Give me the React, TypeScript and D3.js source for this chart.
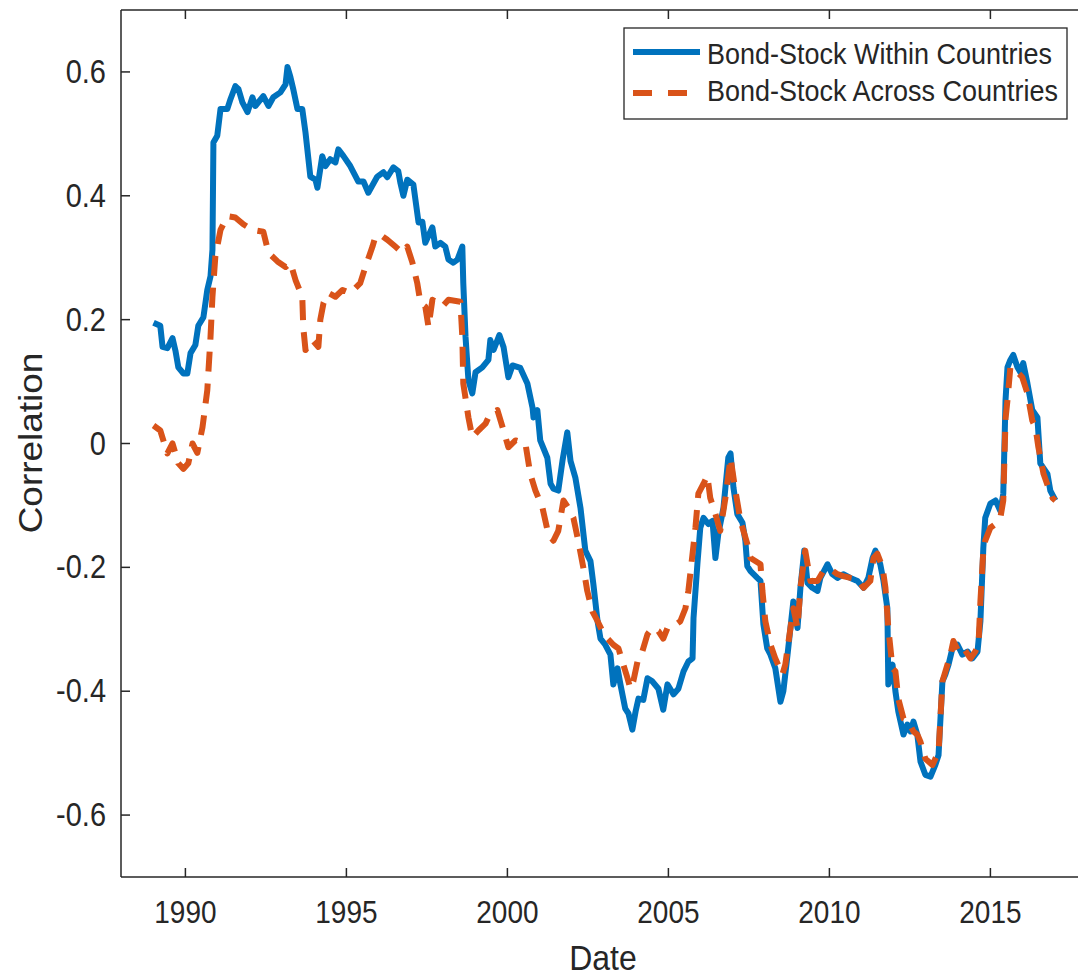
import React from 'react';
import {scaleLinear, line, curveLinear} from 'd3';

// dates as decimal years
const withinDates = [
  1989.01, 1989.22, 1989.29, 1989.44, 1989.6, 1989.69, 1989.78, 1989.94, 1990.06, 1990.16,
  1990.31, 1990.4, 1990.56, 1990.68, 1990.78, 1990.84, 1990.87, 1990.99, 1991.09, 1991.3,
  1991.4, 1991.55, 1991.65, 1991.77, 1991.93, 1992.08, 1992.17, 1992.42, 1992.58, 1992.73,
  1992.95, 1993.11, 1993.17, 1993.26, 1993.35, 1993.48, 1993.63, 1993.73, 1993.88, 1994.04,
  1994.1, 1994.25, 1994.35, 1994.5, 1994.66, 1994.75, 1994.91, 1995.12, 1995.37, 1995.53,
  1995.68, 1995.96, 1996.15, 1996.27, 1996.46, 1996.61, 1996.68, 1996.77, 1996.89, 1997.08,
  1997.24, 1997.36, 1997.45, 1997.67, 1997.76, 1997.92, 1998.07, 1998.17, 1998.32, 1998.45,
  1998.6, 1998.63, 1998.7, 1998.79, 1998.91, 1999.01, 1999.22, 1999.41, 1999.47, 1999.57,
  1999.75, 1999.88, 2000.03, 2000.16, 2000.4, 2000.62, 2000.78, 2000.81, 2000.93, 2001.02,
  2001.24, 2001.34, 2001.43, 2001.58, 2001.71, 2001.86, 2001.96, 2002.11, 2002.27, 2002.42,
  2002.58, 2002.67, 2002.8, 2002.89, 2003.04, 2003.2, 2003.29, 2003.42, 2003.51, 2003.66,
  2003.76, 2003.88, 2003.98, 2004.07, 2004.22, 2004.35, 2004.5, 2004.69, 2004.84, 2004.97,
  2005.16, 2005.31, 2005.47, 2005.62, 2005.75, 2005.78, 2005.9, 2005.99, 2006.09, 2006.24,
  2006.37, 2006.46, 2006.55, 2006.71, 2006.86, 2006.93, 2007.02, 2007.14, 2007.3, 2007.39,
  2007.45, 2007.55, 2007.76, 2007.86, 2007.95, 2008.07, 2008.17, 2008.32, 2008.48, 2008.57,
  2008.7, 2008.79, 2008.88, 2009.01, 2009.1, 2009.22, 2009.32, 2009.47, 2009.63, 2009.72,
  2009.94, 2010.09, 2010.25, 2010.43, 2010.65, 2010.87, 2011.06, 2011.21, 2011.34, 2011.43,
  2011.58, 2011.68, 2011.8, 2011.83, 2011.96, 2012.05, 2012.14, 2012.3, 2012.42, 2012.52,
  2012.61, 2012.73, 2012.83, 2012.98, 2013.14, 2013.29, 2013.39, 2013.51, 2013.6, 2013.7,
  2013.82, 2013.98, 2014.13, 2014.29, 2014.44, 2014.6, 2014.69, 2014.78, 2014.84, 2015.0,
  2015.16, 2015.31, 2015.4, 2015.47, 2015.53, 2015.62, 2015.71, 2015.84, 2015.93, 2016.02,
  2016.15, 2016.3, 2016.46, 2016.55, 2016.77, 2016.86, 2017.02,
];
const withinValues = [
  0.195, 0.19, 0.156, 0.154, 0.17, 0.15, 0.123, 0.113, 0.113, 0.146,
  0.159, 0.19, 0.204, 0.248, 0.27, 0.313, 0.486, 0.497, 0.54, 0.54,
  0.556, 0.577, 0.572, 0.551, 0.535, 0.559, 0.545, 0.561, 0.545, 0.559,
  0.567, 0.58, 0.608, 0.592, 0.572, 0.54, 0.54, 0.502, 0.431, 0.426,
  0.413, 0.464, 0.448, 0.459, 0.454, 0.475, 0.464, 0.448, 0.423, 0.423,
  0.405, 0.431, 0.438, 0.43, 0.446, 0.44, 0.42, 0.4, 0.426, 0.418,
  0.357, 0.358, 0.324, 0.349, 0.318, 0.324, 0.318, 0.297, 0.292, 0.297,
  0.318, 0.259, 0.172, 0.102, 0.081, 0.115, 0.123, 0.135, 0.167, 0.151,
  0.175, 0.156, 0.107, 0.126, 0.122, 0.097, 0.058, 0.042, 0.054, 0.005,
  -0.023, -0.065, -0.073, -0.076, -0.028, 0.018, -0.028, -0.055, -0.104, -0.173,
  -0.19, -0.227, -0.287, -0.315, -0.325, -0.341, -0.389, -0.363, -0.389, -0.428,
  -0.436, -0.462, -0.433, -0.412, -0.414, -0.379, -0.384, -0.396, -0.43, -0.389,
  -0.405, -0.396, -0.368, -0.352, -0.347, -0.282, -0.195, -0.136, -0.12, -0.13,
  -0.125, -0.185, -0.146, -0.104, -0.023, -0.016, -0.071, -0.114, -0.128, -0.157,
  -0.198, -0.206, -0.217, -0.222, -0.292, -0.331, -0.341, -0.363, -0.417, -0.4,
  -0.341, -0.298, -0.255, -0.298, -0.233, -0.173, -0.225, -0.233, -0.238, -0.217,
  -0.195, -0.211, -0.217, -0.211, -0.217, -0.222, -0.233, -0.217, -0.185, -0.173,
  -0.195, -0.222, -0.266, -0.389, -0.357, -0.4, -0.433, -0.47, -0.454, -0.465,
  -0.449, -0.47, -0.514, -0.535, -0.538, -0.519, -0.503, -0.384, -0.373, -0.357,
  -0.331, -0.325, -0.341, -0.336, -0.347, -0.336, -0.287, -0.169, -0.12, -0.097,
  -0.092, -0.109, -0.081, 0.07, 0.123, 0.135, 0.143, 0.123, 0.115, 0.13,
  0.097, 0.054, 0.042, -0.032, -0.049, -0.076, -0.092,
];

const acrossDates = [
  1989.01, 1989.22, 1989.44, 1989.6, 1989.78, 1989.94, 1990.09, 1990.22, 1990.37, 1990.53,
  1990.68, 1990.78, 1990.84, 1990.93, 1991.09, 1991.3, 1991.55, 1991.8, 1992.08, 1992.42,
  1992.58, 1992.86, 1993.11, 1993.26, 1993.42, 1993.63, 1993.66, 1993.73, 1993.94, 1994.13,
  1994.19, 1994.29, 1994.44, 1994.66, 1994.88, 1995.12, 1995.43, 1995.59, 1995.81, 1995.9,
  1996.06, 1996.27, 1996.52, 1996.74, 1996.89, 1997.05, 1997.2, 1997.3, 1997.45, 1997.55,
  1997.67, 1997.83, 1997.98, 1998.17, 1998.54, 1998.6, 1998.63, 1998.79, 1998.91, 1999.1,
  1999.32, 1999.47, 1999.69, 1999.88, 2000.03, 2000.25, 2000.56, 2000.71, 2000.87, 2001.09,
  2001.27, 2001.43, 2001.58, 2001.74, 2001.89, 2002.05, 2002.2, 2002.36, 2002.48, 2002.64,
  2002.8, 2002.95, 2003.11, 2003.29, 2003.45, 2003.57, 2003.73, 2003.82, 2003.91, 2004.04,
  2004.19, 2004.35, 2004.5, 2004.69, 2004.84, 2004.97, 2005.16, 2005.37, 2005.53, 2005.62,
  2005.75, 2005.84, 2005.93, 2006.09, 2006.21, 2006.3, 2006.46, 2006.61, 2006.77, 2006.93,
  2007.08, 2007.24, 2007.45, 2007.55, 2007.86, 2007.92, 2008.01, 2008.17, 2008.32, 2008.54,
  2008.63, 2008.79, 2008.88, 2009.01, 2009.1, 2009.25, 2009.41, 2009.63, 2009.81, 2010.03,
  2010.25, 2010.43, 2010.65, 2010.87, 2011.06, 2011.27, 2011.37, 2011.49, 2011.65, 2011.74,
  2011.83, 2011.96, 2012.05, 2012.14, 2012.3, 2012.45, 2012.61, 2012.73, 2012.83, 2012.98,
  2013.2, 2013.29, 2013.39, 2013.51, 2013.76, 2013.85, 2014.01, 2014.16, 2014.38, 2014.53,
  2014.63, 2014.69, 2014.78, 2014.84, 2015.0, 2015.16, 2015.31, 2015.4, 2015.47, 2015.53,
  2015.62, 2015.71, 2015.84, 2015.99, 2016.15, 2016.3, 2016.4, 2016.49, 2016.65, 2016.8,
  2016.93, 2017.02,
];
const acrossValues = [
  0.029, 0.021, -0.016, 0, -0.032, -0.041, -0.032, 0, -0.015, 0.026,
  0.086, 0.172, 0.237, 0.302, 0.345, 0.367, 0.365, 0.354, 0.345, 0.342,
  0.308, 0.294, 0.285, 0.292, 0.264, 0.237, 0.188, 0.151, 0.167, 0.156,
  0.2, 0.227, 0.243, 0.237, 0.248, 0.243, 0.259, 0.285, 0.318, 0.334,
  0.337, 0.329, 0.318, 0.308, 0.318, 0.292, 0.259, 0.227, 0.221, 0.188,
  0.232, 0.227, 0.221, 0.232, 0.229, 0.172, 0.097, 0.042, 0.01, 0.021,
  0.032, 0.049, 0.054, 0.021, -0.006, 0.005, 0, -0.049, -0.076, -0.104,
  -0.146, -0.157, -0.141, -0.092, -0.104, -0.12, -0.157, -0.201, -0.238, -0.271,
  -0.287, -0.303, -0.315, -0.325, -0.331, -0.352, -0.379, -0.396, -0.384, -0.352,
  -0.336, -0.308, -0.298, -0.303, -0.315, -0.298, -0.295, -0.287, -0.266, -0.238,
  -0.178, -0.136, -0.081, -0.065, -0.052, -0.088, -0.114, -0.141, -0.088, -0.023,
  -0.076, -0.125, -0.162, -0.185, -0.195, -0.238, -0.287, -0.325, -0.347, -0.373,
  -0.357, -0.298, -0.266, -0.298, -0.233, -0.173, -0.222, -0.222, -0.206, -0.203,
  -0.211, -0.214, -0.217, -0.219, -0.233, -0.222, -0.185, -0.178, -0.2, -0.233,
  -0.298, -0.363, -0.368, -0.412, -0.444, -0.449, -0.465, -0.47, -0.482, -0.509,
  -0.519, -0.509, -0.498, -0.384, -0.341, -0.319, -0.336, -0.33, -0.347, -0.336,
  -0.325, -0.255, -0.173, -0.157, -0.136, -0.13, -0.12, -0.092, 0.04, 0.07,
  0.123, 0.122, 0.115, 0.107, 0.081, 0.037, 0.026, -0.006, -0.049, -0.071,
  -0.088, -0.092,
];

const xTicks = [1990, 1995, 2000, 2005, 2010, 2015];
const yTicks = [-0.6, -0.4, -0.2, 0, 0.2, 0.4, 0.6];
const seriesNames = ['Bond-Stock Within Countries', 'Bond-Stock Across Countries'];

const W = 1078;
const H = 979;
const left = 121;
const top = 10;
const bottom = 877;
const right = 1087;
const FONT = '"Liberation Sans", Arial, sans-serif';
const INK = '#262626';
const BLUE = '#0072BD';
const ORANGE = '#D95319';
const STRETCH = 1.12;

const Txt = ({x, y, size, anchor = 'start', rotate = 0, children}: any) => (
  <text
    transform={`translate(${x},${y}) scale(1,${STRETCH})${rotate ? ` rotate(${rotate})` : ''}`}
    fontFamily={FONT}
    fontSize={size}
    fill={INK}
    textAnchor={anchor}
  >
    {children}
  </text>
);

export default function App() {
  const x = scaleLinear().domain([1988, 2018]).range([left, right]);
  const y = scaleLinear().domain([-0.7, 0.7]).range([bottom, top]);

  const path = line<[number, number]>()
    .x(d => x(d[0]))
    .y(d => y(d[1]))
    .curve(curveLinear);

  const within = withinDates.map((d, i) => [d, withinValues[i]] as [number, number]);
  const across = acrossDates.map((d, i) => [d, acrossValues[i]] as [number, number]);

  const tickLen = 9;

  return (
    <svg width={W} height={H} style={{position: 'absolute', left: 0, top: 0, background: '#fff'}}>
      <defs>
        <clipPath id="plot">
          <rect x={left} y={top} width={right - left} height={bottom - top} />
        </clipPath>
      </defs>
      <rect x={0} y={0} width={W} height={H} fill="#fff" />

      <g clipPath="url(#plot)" fill="none" strokeLinejoin="round">
        <path d={path(within) || ''} stroke={BLUE} strokeWidth={6} />
        <path d={path(across) || ''} stroke={ORANGE} strokeWidth={6} strokeDasharray="20,12" />
      </g>

      {/* axes box; the right side falls past the page edge */}
      <g stroke={INK} strokeWidth={1.5} fill="none">
        <line x1={left} y1={top} x2={left} y2={bottom} />
        <line x1={left} y1={bottom} x2={W} y2={bottom} />
        <line x1={left} y1={top} x2={W} y2={top} />
        {xTicks.map(t => (
          <g key={t}>
            <line x1={x(t)} x2={x(t)} y1={bottom} y2={bottom - tickLen} />
            <line x1={x(t)} x2={x(t)} y1={top} y2={top + tickLen} />
          </g>
        ))}
        {yTicks.map(t => (
          <line key={t} x1={left} x2={left + tickLen} y1={y(t)} y2={y(t)} />
        ))}
      </g>

      {xTicks.map(t => (
        <Txt key={t} x={x(t)} y={923} size={28} anchor="middle">{t}</Txt>
      ))}
      {yTicks.map(t => (
        <Txt key={t} x={106} y={y(t) + 11} size={29} anchor="end">{t === 0 ? '0' : t.toFixed(1)}</Txt>
      ))}

      <Txt x={603} y={970} size={32} anchor="middle">Date</Txt>
      <Txt x={42} y={443} size={33} anchor="middle" rotate={-90}>Correlation</Txt>

      {/* legend */}
      <rect x={624} y={28} width={443} height={91} fill="#fff" stroke={INK} strokeWidth={1.3} />
      <line x1={633} x2={700} y1={52} y2={52} stroke={BLUE} strokeWidth={6} />
      <line x1={633} x2={700} y1={93} y2={93} stroke={ORANGE} strokeWidth={6} strokeDasharray="19,16" />
      <Txt x={707} y={64} size={27}>{seriesNames[0]}</Txt>
      <Txt x={707} y={101} size={27}>{seriesNames[1]}</Txt>
    </svg>
  );
}
